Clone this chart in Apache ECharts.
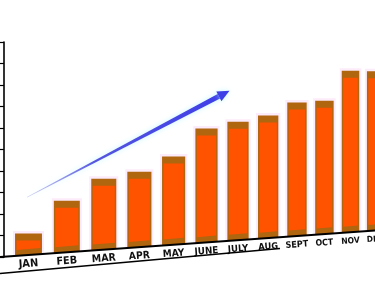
<!DOCTYPE html>
<html><head><meta charset="utf-8">
<script src="https://cdn.jsdelivr.net/npm/echarts@6/dist/echarts.min.js"></script>
<style>html,body{margin:0;padding:0;background:#fff}#c{width:375px;height:298px}</style>
</head><body><div id="c"></div>
<script>
// ---- data ----
const months = ['JAN','FEB','MAR','APR','MAY','JUNE','JULY','AUG','SEPT','OCT','NOV','DEC'];
const sales = [1.0, 2.4, 3.3, 3.5, 4.1, 5.3, 5.5, 5.7, 6.2, 6.2, 7.5, 7.4];
const yMin = 0, yMax = 10, yStep = 1;

// ---- layout / style ----
const GRID = {left: 4, right: 0, top: 42, bottom: 41};
const SLOPE = 0.071;            // tilt of the floor line
const OLIVE = '#b0650f', ORANGE = '#ff5300';
const W = 375;

// perspective warp of the evenly spaced category centres
function warp(px) {
  const band = (W - GRID.left - GRID.right) / months.length;
  const i = (px - GRID.left) / band - 0.5;
  return {x: 28.5 + 39 * i - 0.68 * i * i, d: 39 - 1.36 * i, i: i};
}

const chart = echarts.init(document.getElementById('c'), null, {renderer: 'canvas'});

function renderItem(params, api) {
  const idx = api.value(0), v = api.value(1);
  const p0 = api.coord([idx, 0]);
  const pos = warp(p0[0]);
  const y0 = p0[1];
  const h = api.size([0, v])[1];
  const w = 0.69 * pos.d;
  const xl = pos.x - w / 2, xr = pos.x + w / 2;
  const ybl = y0 - SLOPE * xl, ybr = y0 - SLOPE * xr, yc = y0 - SLOPE * pos.x;
  const top = yc - h;
  const cap = 7, bot = 6, side = 1.5;
  const fs = 11 - 0.25 * pos.i;
  return {type: 'group', children: [
    {type: 'polygon', shape: {points: [[xl - 2, top - 2.5], [xr + 2, top - 2.5], [xr + 2, ybr], [xl - 2, ybl]]},
      style: {fill: 'rgba(248,205,242,0.4)'}},
    {type: 'polygon', shape: {points: [[xl, top], [xr, top], [xr, ybr], [xl, ybl]]},
      style: {fill: OLIVE}},
    {type: 'polygon', shape: {points: [[xl + side, top + cap], [xr - side, top + cap], [xr - side, ybr - bot], [xl + side, ybl - bot]]},
      style: {fill: ORANGE}},
    {type: 'text', x: pos.x, y: yc + 9, rotation: Math.atan(SLOPE),
      style: {text: api.value(2), fill: '#111', fontSize: fs, fontWeight: 'bold',
        fontFamily: '"Liberation Sans Narrow", "DejaVu Sans Condensed", sans-serif',
        align: 'center', verticalAlign: 'middle'}}
  ]};
}

// decorative floor lines and trend arrow
const y0px = 298 - GRID.bottom;
const tip = [229.5, 90.7], tail = [27, 197.3];
const ux = tip[0] - tail[0], uy = tip[1] - tail[1], L = Math.hypot(ux, uy);
const u = [ux / L, uy / L], pp = [-u[1], u[0]];
const hb = [tip[0] - 12 * u[0], tip[1] - 12 * u[1]];
function off(p, k) { return [p[0] + pp[0] * k, p[1] + pp[1] * k]; }

chart.setOption({
  animation: false,
  backgroundColor: '#fff',
  grid: GRID,
  xAxis: {type: 'category', data: months, show: false},
  yAxis: {type: 'value', min: yMin, max: yMax, interval: yStep,
    axisLine: {show: true, lineStyle: {color: '#000', width: 1.6}},
    axisTick: {show: true, length: 4, lineStyle: {color: '#000', width: 1.2}},
    axisLabel: {show: false}, splitLine: {show: false}},
  graphic: [
    {type: 'line', shape: {x1: 0, y1: y0px, x2: W, y2: y0px - SLOPE * W}, style: {stroke: '#000', lineWidth: 2}, z: 10},
    {type: 'line', shape: {x1: 0, y1: 273.5, x2: 280, y2: 248.5}, style: {stroke: '#000', lineWidth: 1.6}, z: 10},
    {type: 'polygon', z: 5, shape: {points: [off(tail, 0.3), off(hb, 2.5), off(hb, -2.5), off(tail, -0.3)]},
      style: {fill: new echarts.graphic.LinearGradient(tail[0], tail[1], hb[0], hb[1],
        [{offset: 0, color: 'rgba(120,120,225,0.35)'}, {offset: 0.35, color: '#5555e0'}, {offset: 1, color: '#3f3fe8'}], true),
        shadowColor: 'rgba(150,240,255,0.6)', shadowBlur: 5}},
    {type: 'polygon', z: 5, shape: {points: [tip, off(hb, 5.5), off(hb, -5.5)]},
      style: {fill: '#3f3fe8', shadowColor: 'rgba(150,240,255,0.6)', shadowBlur: 5}}
  ],
  series: [{
    type: 'custom', clip: false, renderItem: renderItem,
    encode: {x: 0, y: 1},
    data: sales.map((v, i) => [i, v, months[i]])
  }]
});
</script></body></html>
